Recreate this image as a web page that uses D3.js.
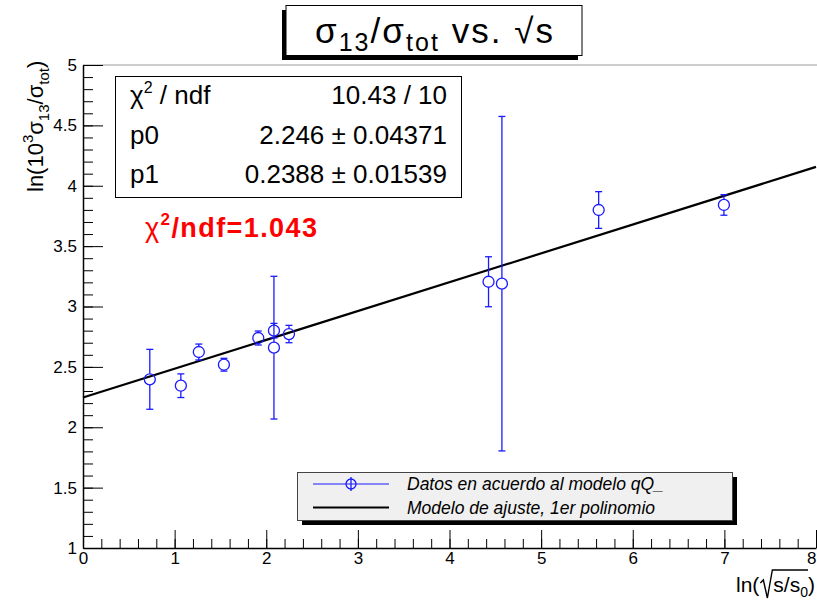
<!DOCTYPE html>
<html>
<head>
<meta charset="utf-8">
<script src="https://cdn.jsdelivr.net/npm/d3@7"></script>
<style>
  body { margin: 0; background: #fff; }
  svg { display: block; }
  text { font-family: "Liberation Sans", Arial, Helvetica, sans-serif; }
</style>
</head>
<body>
<svg id="chart" width="817" height="603"></svg>
<script>
// Measured points: ln(sqrt(s/s0)) vs ln(10^3 sigma13/sigma_tot)
const xValues = [0.729, 1.068, 1.264, 1.538, 1.913, 2.084, 2.084, 2.248, 4.426, 4.572, 5.628, 6.995];
const yValues = [2.397, 2.344, 2.623, 2.518, 2.739, 2.800, 2.659, 2.772, 3.205, 3.189, 3.799, 3.841];
const yErrors = [0.248, 0.098, 0.066, 0.053, 0.058, 0.060, 0.591, 0.072, 0.207, 1.385, 0.152, 0.085];

// First-order polynomial fit
const fitP0 = 2.246;
const fitP1 = 0.2388;

const xTicks = [0, 1, 2, 3, 4, 5, 6, 7, 8];
const xTickLabels = ["0", "1", "2", "3", "4", "5", "6", "7", "8"];
const yTicks = [1, 1.5, 2, 2.5, 3, 3.5, 4, 4.5, 5];
const yTickLabels = ["1", "1.5", "2", "2.5", "3", "3.5", "4", "4.5", "5"];

const statsValues = ["10.43 / 10", "2.246 \u00b1 0.04371", "0.2388 \u00b1 0.01539"];
const statsNames = ["p0", "p1"];
const chiLabel = "1.043";
const legendLabels = ["Datos en acuerdo al modelo qQ_", "Modelo de ajuste, 1er polinomio"];

const BLUE = "#1a1aff";
const svg = d3.select("#chart");

const x = d3.scaleLinear().domain([0, 8]).range([83, 816]);
const y = d3.scaleLinear().domain([1, 5]).range([548, 65]);

// frame top edge
svg.append("line").attr("x1", 83).attr("x2", 817).attr("y1", 65).attr("y2", 65)
  .attr("stroke", "#9a9a9a").attr("stroke-width", 1);

// minor ticks
const xMinor = d3.range(0, 41).map(i => i * 0.2);
const yMinor = d3.range(0, 41).map(i => 1 + i * 0.1);
svg.append("g").attr("transform", "translate(0,548)")
  .call(d3.axisBottom(x).tickValues(xMinor).tickSize(-9).tickSizeOuter(0).tickFormat(""))
  .call(g => g.select(".domain").remove());
svg.append("g").attr("transform", "translate(83,0)")
  .call(d3.axisLeft(y).tickValues(yMinor).tickSize(-10).tickSizeOuter(0).tickFormat(""))
  .call(g => g.select(".domain").remove());

// major ticks with labels
const xAxis = svg.append("g").attr("transform", "translate(0,548)")
  .call(d3.axisBottom(x).tickValues(xTicks).tickSize(-18).tickSizeOuter(0).tickPadding(4)
    .tickFormat((d, i) => xTickLabels[i]));
const yAxis = svg.append("g").attr("transform", "translate(83,0)")
  .call(d3.axisLeft(y).tickValues(yTicks).tickSize(-20).tickSizeOuter(0).tickPadding(6)
    .tickFormat((d, i) => yTickLabels[i]));
[xAxis, yAxis].forEach(g => {
  g.select(".domain").attr("stroke", "#000").attr("stroke-width", 1.5);
  g.selectAll("text").attr("font-size", 17).attr("fill", "#000")
    .attr("font-family", "'Liberation Sans', Arial, sans-serif");
});
// last x label sits at the frame edge; keep it inside the page
xAxis.selectAll(".tick text").filter(d => d === 8).attr("text-anchor", "end").attr("dx", 0);
svg.selectAll(".tick line").attr("stroke", "#000").attr("stroke-width", 1);

// fit line
const fitLine = d3.line().x(d => x(d)).y(d => y(fitP0 + fitP1 * d));
svg.append("path").datum([0, 8]).attr("d", fitLine)
  .attr("fill", "none").attr("stroke", "#000").attr("stroke-width", 2.2);

// data points with error bars
const R = 5.5, CAP = 3.5;
const pts = svg.append("g").attr("stroke", BLUE).attr("stroke-width", 1.3).attr("fill", "none");
xValues.forEach((xv, i) => {
  const cx = x(xv), cy = y(yValues[i]);
  const top = y(yValues[i] + yErrors[i]), bot = y(yValues[i] - yErrors[i]);
  if (cy - R > top) pts.append("line").attr("x1", cx).attr("x2", cx).attr("y1", top).attr("y2", cy - R);
  if (cy + R < bot) pts.append("line").attr("x1", cx).attr("x2", cx).attr("y1", cy + R).attr("y2", bot);
  pts.append("line").attr("x1", cx - CAP).attr("x2", cx + CAP).attr("y1", top).attr("y2", top);
  pts.append("line").attr("x1", cx - CAP).attr("x2", cx + CAP).attr("y1", bot).attr("y2", bot);
  pts.append("circle").attr("cx", cx).attr("cy", cy).attr("r", R);
});

// title box
svg.append("rect").attr("x", 282).attr("y", 10).attr("width", 296).attr("height", 50).attr("fill", "#000");
svg.append("rect").attr("x", 286).attr("y", 5.5).attr("width", 296).attr("height", 50)
  .attr("fill", "#fff").attr("stroke", "#000").attr("stroke-width", 1);
const title = svg.append("text").attr("x", 315).attr("y", 43)
  .attr("font-size", 35).attr("fill", "#000")
  .attr("textLength", 238).attr("lengthAdjust", "spacing");
title.append("tspan").text("\u03c3");
title.append("tspan").attr("font-size", 25).attr("dy", 8).text("13");
title.append("tspan").attr("dy", -8).text("/\u03c3");
title.append("tspan").attr("font-size", 25).attr("dy", 8).text("tot");
title.append("tspan").attr("dy", -8).text(" vs. \u221as");

// stats box
svg.append("rect").attr("x", 115.5).attr("y", 76.5).attr("width", 346).attr("height", 121)
  .attr("fill", "#fff").attr("stroke", "#000").attr("stroke-width", 1);
const statY = [104, 143.5, 183];
const chiT = svg.append("text").attr("x", 130).attr("y", statY[0]).attr("font-size", 26).attr("fill", "#000");
chiT.append("tspan").text("\u03c7");
chiT.append("tspan").attr("font-size", 16).attr("dy", -11).text("2");
chiT.append("tspan").attr("dy", 11).text(" / ndf");
statsNames.forEach((n, i) => {
  svg.append("text").attr("x", 130).attr("y", statY[i + 1]).attr("font-size", 26).attr("fill", "#000").text(n);
});
statsValues.forEach((v, i) => {
  svg.append("text").attr("x", 447).attr("y", statY[i]).attr("text-anchor", "end")
    .attr("font-size", 26).attr("fill", "#000").text(v);
});

// reduced chi-square annotation
const red = svg.append("text").attr("x", 145).attr("y", 237).attr("font-size", 27)
  .attr("font-weight", "bold").attr("fill", "#ff0000")
  .attr("textLength", 172).attr("lengthAdjust", "spacing");
red.append("tspan").attr("font-weight", "normal").text("\u03c7");
red.append("tspan").attr("font-size", 17).attr("dy", -12).text("2");
red.append("tspan").attr("dy", 12).text("/ndf=" + chiLabel);

// legend
svg.append("rect").attr("x", 302).attr("y", 477).attr("width", 435).attr("height", 48).attr("fill", "#000");
svg.append("rect").attr("x", 297.5).attr("y", 472.5).attr("width", 435).attr("height", 48)
  .attr("fill", "#f0f0f0").attr("stroke", "#444").attr("stroke-width", 1);
const lg = svg.append("g");
lg.append("line").attr("x1", 313).attr("x2", 389).attr("y1", 484).attr("y2", 484).attr("stroke", BLUE).attr("stroke-width", 1);
lg.append("line").attr("x1", 351).attr("x2", 351).attr("y1", 477).attr("y2", 491).attr("stroke", BLUE).attr("stroke-width", 1.3);
lg.append("circle").attr("cx", 351).attr("cy", 484).attr("r", 5).attr("fill", "none").attr("stroke", BLUE).attr("stroke-width", 1.3);
lg.append("line").attr("x1", 313).attr("x2", 389).attr("y1", 507.5).attr("y2", 507.5).attr("stroke", "#000").attr("stroke-width", 2.2);
legendLabels.forEach((t, i) => {
  lg.append("text").attr("x", 407).attr("y", [490, 514][i]).attr("font-size", 17.5)
    .attr("font-style", "italic").attr("fill", "#000").text(t);
});

// y axis title (rotated)
const yt = svg.append("text").attr("transform", "translate(43,192) rotate(-90)")
  .attr("font-size", 22).attr("fill", "#000");
yt.append("tspan").text("ln(10");
yt.append("tspan").attr("font-size", 15).attr("dy", -10).text("3");
yt.append("tspan").attr("dy", 10).text("\u03c3");
yt.append("tspan").attr("font-size", 15).attr("dy", 6).text("13");
yt.append("tspan").attr("dy", -6).text("/\u03c3");
yt.append("tspan").attr("font-size", 15).attr("dy", 6).text("tot");
yt.append("tspan").attr("dy", -6).text(")");

// x axis title with radical
const xt = svg.append("g");
const xtText = xt.append("text").attr("y", 592).attr("font-size", 21).attr("fill", "#000");
xtText.append("tspan").text("ln(");
xtText.append("tspan").attr("dx", 14).text("s/s");
xtText.append("tspan").attr("font-size", 14).attr("dy", 5).text("0");
xtText.append("tspan").attr("dy", -5).text(")");
const wTotal = xtText.node().getComputedTextLength() + 14;
const xStart = 815 - wTotal;
xtText.attr("x", xStart);
const nd = xtText.node();
const rad0 = xStart + nd.getSubStringLength(0, 3);
const barEnd = xStart + 14 + nd.getSubStringLength(0, 7);
xt.append("path")
  .attr("d", `M${rad0 + 1},583 L${rad0 + 4},580 L${rad0 + 8},598 L${rad0 + 13},570 L${barEnd},570`)
  .attr("fill", "none").attr("stroke", "#000").attr("stroke-width", 1.4);
</script>
</body>
</html>
